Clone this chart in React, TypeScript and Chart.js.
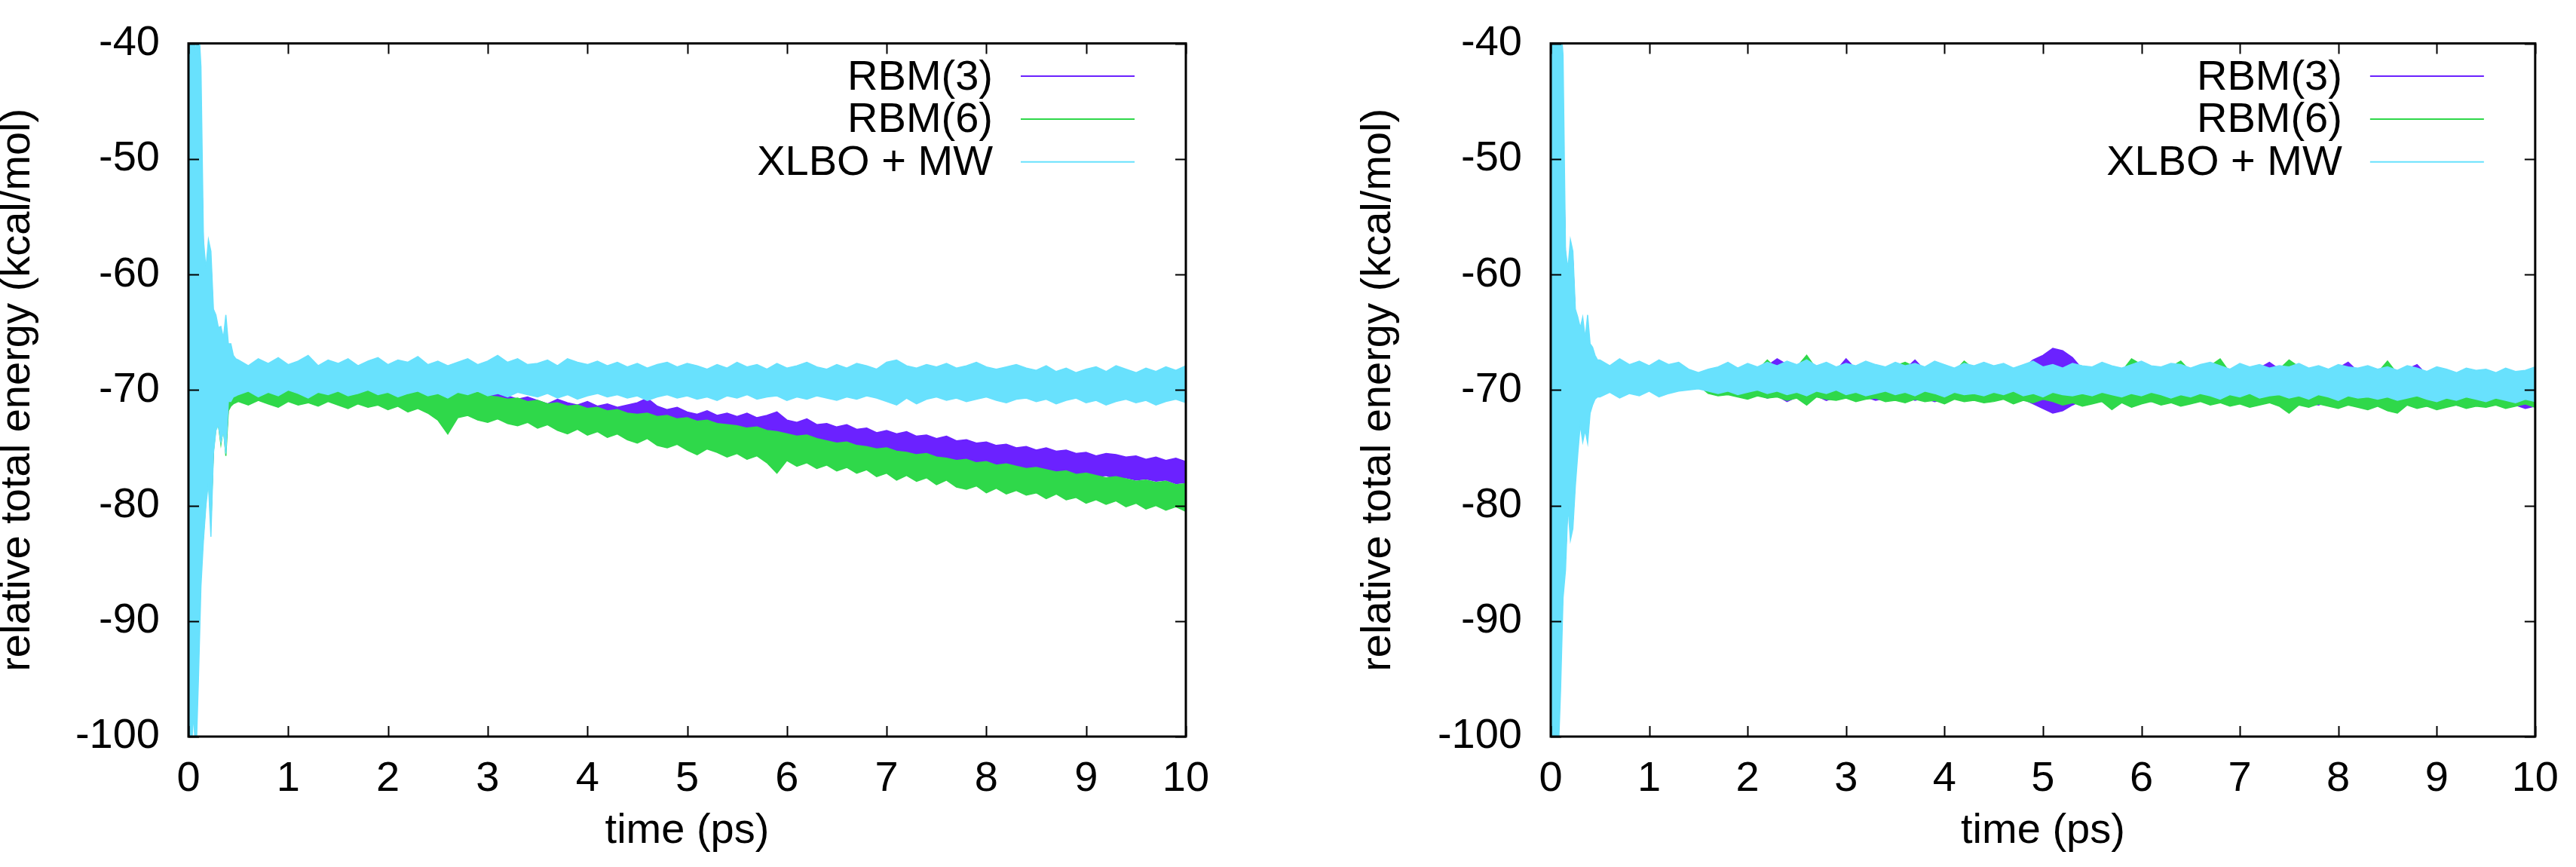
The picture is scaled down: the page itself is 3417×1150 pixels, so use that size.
import { useEffect, useRef } from "react";
import { Chart, registerables } from "chart.js";

Chart.register(...registerables);

// ---------- axes / labels ----------
const xTickValues = [0, 1, 2, 3, 4, 5, 6, 7, 8, 9, 10];
const yTickValues = [-100, -90, -80, -70, -60, -50, -40];
const seriesNames = ["RBM(3)", "RBM(6)", "XLBO + MW"];
const seriesColors = ["#6b22ff", "#2fd84a", "#68e1fd"];
const xTitle = "time (ps)";
const yTitle = "relative total energy (kcal/mol)";

// ---------- time grids (ps) ----------
const timeEarly = [0, 0.025, 0.05, 0.075, 0.1, 0.125, 0.15, 0.175, 0.2, 0.225, 0.25, 0.275, 0.3, 0.325, 0.35, 0.375, 0.4, 0.425, 0.45, 0.475];
const timeBody = Array.from({ length: 96 }, (_, i) => Math.round((0.5 + i * 0.1) * 10) / 10);

// ---------- LEFT panel: upper / lower envelope of each trace ----------
const leftXlboEarlyHi = [-38, -38, -38, -41, -38, -42, -57, -59.5, -57, -58, -63, -63.5, -64.6, -64.5, -65.5, -63.5, -66, -66, -67, -67.3];
const leftXlboEarlyLo = [-102, -102, -98, -102, -95, -87, -83, -80, -78, -82.7, -75.5, -73.5, -73, -74.5, -73.5, -75.5, -71, -71, -70.6, -70.5];
const leftXlboHi = [
  -67.4, -67.9, -67.3, -67.7, -67.2, -67.8, -67.5, -67.0, -67.9, -67.4,
  -67.7, -67.3, -67.9, -67.5, -67.2, -67.8, -67.4, -67.6, -67.1, -67.8,
  -67.5, -67.9, -67.6, -67.3, -67.8, -67.5, -67.0, -67.6, -67.3, -67.8,
  -67.7, -67.4, -67.9, -67.3, -67.6, -67.8, -67.5, -67.9, -67.6, -68.0,
  -67.7, -68.1, -67.8, -67.6, -68.0, -67.7, -67.9, -68.2, -67.8, -68.1,
  -67.6, -68.0, -67.8, -68.2, -67.7, -68.1, -67.9, -67.6, -68.0, -68.2,
  -67.8, -68.1, -67.7, -67.9, -68.2, -67.6, -67.4, -67.9, -68.1, -67.8,
  -68.0, -67.7, -68.1, -67.9, -67.6, -68.0, -68.2, -68.0, -67.8, -68.1,
  -68.3, -67.9, -68.4, -68.1, -68.5, -68.2, -68.0, -68.4, -67.9, -68.2,
  -68.5, -68.1, -68.4, -68.0, -68.3, -67.9,
];
const leftXlboLo = [
  -70.4, -70.1, -70.6, -70.2, -70.5, -70.0, -70.3, -70.7, -70.2, -70.4,
  -70.1, -70.5, -70.3, -70.0, -70.4, -70.2, -70.6, -70.3, -70.1, -70.5,
  -70.3, -70.7, -70.2, -70.4, -70.1, -70.5, -70.3, -70.6, -70.2, -70.4,
  -70.6, -70.3, -70.7, -70.4, -70.8, -70.5, -70.3, -70.6, -70.4, -70.7,
  -70.5, -70.9, -70.6, -70.4, -70.7, -70.5, -70.8, -70.6, -70.9, -70.5,
  -70.7, -70.4, -70.8, -70.6, -70.5, -70.9, -70.6, -70.8, -70.5, -70.7,
  -70.9, -70.6, -70.8, -70.5, -70.7, -71.0, -71.3, -70.7, -71.2, -70.8,
  -70.6, -70.9, -70.7, -71.0, -70.8, -70.6, -70.9, -71.1, -70.8, -70.7,
  -71.0, -70.8, -71.2, -70.9, -70.7, -71.1, -70.9, -71.3, -71.0, -70.8,
  -71.1, -70.9, -71.3, -71.0, -70.8, -71.1,
];

const leftRbm3EarlyHi = [-41, -40, -42, -43, -45, -48, -58, -60, -58, -59, -64, -64, -65, -65, -66, -64.5, -66.5, -67.5, -68.5, -69.5];
const leftRbm3EarlyLo = [-99, -98, -96, -97, -92, -85, -82, -79, -77, -81, -75, -73, -72.8, -74, -73, -75, -71.5, -71.3, -71, -70.9];
const leftRbm3Hi = [
  -69.7, -69.9, -69.6, -69.8, -69.5, -69.9, -69.6, -69.8, -69.7, -69.5,
  -69.6, -69.8, -69.5, -69.9, -69.7, -70.0, -69.8, -70.1, -69.9, -70.2,
  -70.0, -70.4, -70.1, -70.3, -70.6, -70.4, -70.2, -70.5, -70.8, -70.6,
  -70.9, -71.2, -70.8, -71.1, -71.3, -71.0, -71.4, -71.2, -71.5, -71.3,
  -71.1, -70.7, -71.4, -71.7, -71.5, -71.9, -72.1, -71.8, -72.2, -72.0,
  -72.3, -72.0, -72.4, -72.2, -71.9, -72.6, -72.8, -72.5, -73.0, -72.9,
  -73.2, -73.0, -73.4, -73.3, -73.7, -73.5, -73.8, -73.6, -74.0, -73.9,
  -74.2, -74.0, -74.4, -74.3, -74.6, -74.5, -74.8, -74.7, -75.0, -74.9,
  -75.2, -75.0, -75.3, -75.2, -75.5, -75.4, -75.7, -75.5, -75.6, -75.8,
  -75.7, -76.0, -75.8, -76.1, -75.9, -76.2,
];
const leftRbm3Lo = [
  -70.8, -71.0, -70.7, -70.9, -71.1, -70.8, -71.0, -70.9, -71.2, -70.8,
  -71.0, -71.3, -71.0, -71.2, -71.1, -71.4, -71.2, -71.5, -71.3, -71.6,
  -71.8, -72.3, -71.9, -72.0, -72.3, -72.2, -72.5, -72.4, -72.7, -72.6,
  -72.9, -72.7, -73.1, -73.0, -73.3, -73.2, -73.4, -73.3, -73.6, -73.5,
  -73.7, -73.6, -73.9, -73.8, -74.0, -73.9, -74.2, -74.1, -74.3, -74.2,
  -74.4, -74.3, -74.5, -74.4, -74.7, -74.6, -74.9, -74.8, -75.1, -75.0,
  -75.3, -75.2, -75.5, -75.4, -75.6, -75.5, -75.8, -75.7, -75.9, -75.8,
  -76.1, -76.0, -76.2, -76.1, -76.4, -76.3, -76.6, -76.5, -76.8, -76.7,
  -77.0, -76.9, -77.2, -77.1, -77.4, -77.3, -77.5, -77.4, -77.7, -77.6,
  -77.8, -77.7, -77.9, -77.8, -78.1, -78.0,
];

const leftRbm6EarlyHi = [-41, -41, -43, -44, -46, -49, -58.5, -60.5, -58.5, -59.5, -64.5, -64.5, -65.5, -65.5, -66.5, -65, -67, -68, -69, -69.6];
const leftRbm6EarlyLo = [-99, -98.5, -96, -97, -92.5, -85.5, -82.5, -79.5, -77.5, -81.5, -75.3, -73.3, -73, -74.7, -73.2, -75.7, -71.8, -71.4, -71.2, -71.1];
const leftRbm6Hi = [
  -69.6, -69.8, -69.5, -69.9, -69.6, -69.7, -69.4, -69.8, -69.6, -69.5,
  -69.4, -69.7, -69.5, -69.8, -69.6, -69.9, -69.7, -70.0, -69.8, -70.1,
  -70.0, -70.3, -70.1, -70.4, -70.2, -70.5, -70.6, -70.8, -70.7, -71.0,
  -70.9, -71.2, -71.1, -71.4, -71.3, -71.6, -71.5, -71.8, -71.7, -72.0,
  -72.1, -72.0, -72.3, -72.2, -72.5, -72.4, -72.7, -72.6, -72.9, -73.0,
  -73.1, -73.3, -73.2, -73.5, -73.6, -73.8, -74.0, -73.9, -74.2, -74.4,
  -74.6, -74.5, -74.8, -74.9, -75.1, -75.0, -75.3, -75.4, -75.6, -75.5,
  -75.8, -75.9, -76.1, -76.0, -76.3, -76.2, -76.5, -76.4, -76.6, -76.8,
  -76.7, -76.9, -77.1, -77.0, -77.3, -77.2, -77.4, -77.6, -77.5, -77.7,
  -77.9, -77.8, -78.0, -77.9, -78.2, -78.1,
];
const leftRbm6Lo = [
  -71.0, -71.3, -70.9, -71.2, -71.5, -71.0, -71.3, -71.1, -71.4, -71.0,
  -71.3, -71.6, -71.2, -71.5, -71.3, -71.7, -71.4, -71.9, -71.6, -72.0,
  -72.6, -73.8, -72.4, -72.2, -72.6, -72.8, -72.5, -72.9, -73.1, -72.8,
  -73.3, -73.0, -73.5, -73.8, -73.4, -73.9, -73.6, -74.1, -73.8, -74.3,
  -74.6, -74.2, -74.8, -75.0, -74.7, -75.2, -75.6, -75.1, -75.4, -75.8,
  -75.5, -76.0, -75.7, -76.3, -77.2, -76.1, -76.6, -76.3, -76.8, -76.5,
  -77.0, -76.7, -77.2, -76.9, -77.5, -77.2, -77.8, -77.4, -77.9, -77.6,
  -78.2, -77.8, -78.4, -78.6, -78.3, -78.9, -78.5, -79.0, -78.7, -79.1,
  -78.9, -79.4, -79.0, -79.5, -79.3, -79.8, -79.5, -79.9, -79.6, -80.1,
  -79.8, -80.3, -80.0, -80.4, -80.1, -80.5,
];

// ---------- RIGHT panel ----------
const rightXlboEarlyHi = [-38, -38, -38, -40, -38, -41, -57.9, -59.5, -57, -58, -63, -63.7, -64.6, -63.7, -65.5, -63.5, -66, -66.3, -67, -67.4];
const rightXlboEarlyLo = [-102, -102, -100, -102, -96, -88, -85.6, -80, -83, -82, -78.3, -75.5, -73, -74.5, -73.5, -74.6, -72, -71.3, -70.8, -70.6];
const rightXlboHi = [
  -67.4, -67.9, -67.3, -67.8, -67.5, -67.9, -67.4, -67.8, -67.6, -68.2,
  -68.5, -68.2, -68.0, -67.6, -68.1, -67.7, -68.0, -67.6, -67.9, -67.5,
  -67.8, -67.4, -67.9, -67.6, -68.0, -67.7, -67.9, -67.5, -67.8, -68.0,
  -67.6, -67.9, -67.7, -68.0, -67.5, -67.8, -68.1, -67.7, -67.9, -67.6,
  -67.9, -67.7, -68.1, -67.8, -67.5, -68.0, -67.8, -68.1, -67.7, -67.9,
  -68.0, -67.6, -67.9, -68.1, -67.8, -67.5, -67.9, -68.0, -67.7, -67.8,
  -68.1, -67.8, -67.6, -67.9, -68.2, -67.7, -68.0, -67.8, -68.1, -67.9,
  -68.0, -67.7, -68.1, -67.9, -68.2, -67.8, -68.0, -68.1, -67.9, -68.2,
  -68.0, -68.3, -67.9, -68.1, -68.4, -68.0, -68.2, -68.5, -68.1, -68.3,
  -68.2, -68.5, -68.1, -68.4, -68.3, -68.0,
];
const rightXlboLo = [
  -70.6, -70.2, -70.7, -70.3, -70.5, -70.1, -70.6, -70.3, -70.1, -70.0,
  -69.9, -70.1, -70.3, -70.1, -70.4, -70.2, -70.0, -70.3, -70.1, -70.4,
  -70.2, -70.5, -70.1, -70.3, -70.0, -70.4, -70.2, -70.5, -70.3, -70.1,
  -70.4, -70.2, -70.5, -70.1, -70.3, -70.6, -70.2, -70.4, -70.3, -70.5,
  -70.2, -70.4, -70.1, -70.5, -70.3, -70.6, -70.2, -70.4, -70.5, -70.3,
  -70.5, -70.2, -70.4, -70.6, -70.3, -70.5, -70.2, -70.4, -70.7, -70.4,
  -70.6, -70.3, -70.5, -70.8, -70.4, -70.6, -70.3, -70.7, -70.5, -70.4,
  -70.7, -70.5, -70.8, -70.4, -70.6, -70.9, -70.5, -70.7, -70.6, -70.8,
  -70.6, -70.9, -70.7, -70.5, -70.8, -71.0, -70.7, -70.9, -70.6, -70.8,
  -71.0, -70.7, -70.9, -71.1, -70.8, -71.0,
];

const rightRbm3EarlyHi = [-41, -40, -42, -43, -45, -48, -58.6, -60.2, -57.8, -58.8, -63.8, -64.4, -65.3, -64.5, -66.2, -64.3, -66.7, -67, -67.6, -67.9];
const rightRbm3EarlyLo = [-99, -98, -97, -98, -93, -86, -84.5, -79.3, -82, -81.2, -77.5, -74.8, -72.4, -73.8, -72.9, -74, -71.4, -70.8, -70.4, -70.3];
const rightRbm3Hi = [
  -67.7, -68.2, -67.6, -68.1, -67.8, -68.2, -67.7, -68.1, -67.9, -68.5,
  -68.8, -68.5, -68.3, -67.9, -68.4, -68.0, -68.3, -67.9, -67.3, -67.8,
  -68.1, -67.7, -68.2, -67.9, -68.3, -67.3, -68.2, -67.8, -68.1, -68.3,
  -67.9, -68.2, -67.4, -68.3, -67.8, -68.1, -68.4, -68.0, -68.2, -67.9,
  -68.2, -68.0, -68.4, -68.1, -67.4, -67.0, -66.4, -66.6, -67.2, -68.2,
  -68.3, -67.9, -68.2, -68.4, -68.1, -67.8, -68.2, -68.3, -68.0, -68.1,
  -68.4, -68.1, -67.9, -68.2, -68.5, -68.0, -68.3, -68.1, -67.6, -68.2,
  -68.3, -68.0, -68.4, -68.2, -68.5, -68.1, -67.6, -68.4, -68.2, -68.5,
  -68.3, -68.6, -68.2, -67.8, -68.7, -68.3, -68.5, -68.8, -68.4, -68.6,
  -68.5, -68.8, -68.4, -68.7, -68.6, -68.3,
];
const rightRbm3Lo = [
  -70.4, -70.0, -70.5, -70.1, -70.3, -69.9, -70.4, -70.1, -69.9, -69.8,
  -69.7, -70.2, -70.4, -70.3, -70.5, -70.6, -70.4, -70.7, -70.5, -71.0,
  -70.6, -70.8, -70.5, -70.9, -70.6, -70.7, -70.8, -70.6, -70.9, -70.7,
  -70.8, -70.6, -70.9, -70.7, -71.0, -70.8, -70.6, -70.9, -70.7, -70.8,
  -70.9, -70.7, -71.0, -70.8, -71.2, -71.6, -72.0, -71.8, -71.3, -70.9,
  -70.8, -71.0, -70.7, -70.9, -70.6, -70.8, -71.0, -70.7, -70.9, -70.8,
  -71.0, -70.8, -71.1, -70.9, -70.7, -71.0, -70.8, -71.1, -70.9, -71.0,
  -71.2, -70.9, -71.1, -71.3, -71.0, -71.2, -70.9, -71.1, -71.3, -71.0,
  -71.2, -71.0, -71.3, -71.1, -71.4, -71.2, -71.0, -71.3, -71.5, -71.2,
  -71.4, -71.2, -71.5, -71.3, -71.6, -71.4,
];

const rightRbm6EarlyHi = [-41, -41, -43, -44, -46, -49, -58.8, -60.4, -58, -59, -64, -64.6, -65.5, -64.7, -66.4, -64.5, -66.9, -67.2, -67.8, -68];
const rightRbm6EarlyLo = [-99, -98.5, -97, -98, -93.5, -86.5, -84.3, -79.1, -81.8, -81, -77.3, -74.6, -72.3, -73.6, -72.7, -73.8, -71.3, -70.7, -70.3, -70.2];
const rightRbm6Hi = [
  -67.8, -68.3, -67.7, -68.2, -67.9, -68.3, -67.8, -68.2, -68.0, -68.6,
  -68.9, -68.6, -68.4, -68.0, -68.5, -67.9, -68.3, -67.4, -68.2, -67.8,
  -68.0, -67.0, -68.2, -67.9, -68.3, -68.0, -68.2, -67.8, -68.1, -68.3,
  -67.9, -67.6, -68.0, -68.3, -67.8, -68.1, -68.4, -67.5, -68.2, -67.9,
  -68.2, -67.9, -68.4, -68.1, -67.8, -68.3, -68.1, -68.4, -67.9, -68.2,
  -68.3, -67.9, -68.2, -68.4, -67.3, -67.8, -68.2, -68.3, -68.0, -67.5,
  -68.4, -68.1, -67.9, -67.3, -68.5, -68.0, -68.3, -68.1, -68.4, -68.2,
  -67.4, -68.0, -68.4, -68.2, -68.5, -68.1, -68.3, -68.4, -68.2, -68.5,
  -67.5, -68.6, -68.2, -68.4, -68.7, -68.3, -68.5, -68.8, -68.4, -68.6,
  -68.5, -68.8, -68.4, -68.7, -68.6, -68.3,
];
const rightRbm6Lo = [
  -70.3, -69.9, -70.4, -70.0, -70.2, -69.8, -70.3, -70.0, -69.8, -69.7,
  -69.6, -70.3, -70.5, -70.4, -70.6, -70.8, -70.5, -70.7, -70.6, -70.9,
  -70.7, -71.3, -70.6, -70.8, -70.9, -70.7, -71.0, -70.8, -70.7, -71.0,
  -70.9, -71.1, -70.8, -71.0, -70.9, -71.2, -70.8, -71.0, -70.9, -71.1,
  -71.0, -70.8, -71.2, -70.9, -71.1, -70.8, -71.0, -71.3, -71.1, -71.4,
  -71.2, -71.0, -71.7, -71.1, -71.5, -71.2, -71.0, -71.3, -71.1, -71.4,
  -71.2, -71.0, -71.3, -71.1, -71.4, -71.2, -71.5, -71.3, -71.1, -71.4,
  -72.0, -71.3, -71.5, -71.2, -71.4, -71.6, -71.3, -71.5, -71.7, -71.4,
  -71.8, -72.0, -71.3, -71.6, -71.4, -71.7, -71.5, -71.3, -71.6, -71.4,
  -71.5, -71.3, -71.6, -71.4, -71.2, -71.5,
];

// ---------- helpers ----------
const FONT = "'Liberation Sans', Arial, Helvetica, sans-serif";

function toPoints(early: number[], body: number[]) {
  const pts: { x: number; y: number }[] = [];
  timeEarly.forEach((t, i) => pts.push({ x: t, y: early[i] }));
  timeBody.forEach((t, i) => pts.push({ x: t, y: body[i] }));
  return pts;
}

type Band = { eHi: number[]; eLo: number[]; hi: number[]; lo: number[] };

function buildDatasets(bands: Band[]) {
  const ds: any[] = [];
  bands.forEach((b, s) => {
    const color = seriesColors[s];
    const order = 3 - s; // XLBO drawn on top
    ds.push({
      data: toPoints(b.eLo, b.lo),
      borderColor: color,
      backgroundColor: color,
      borderWidth: 1.5,
      pointRadius: 0,
      tension: 0,
      fill: false,
      order,
    });
    ds.push({
      data: toPoints(b.eHi, b.hi),
      borderColor: color,
      backgroundColor: color,
      borderWidth: 1.5,
      pointRadius: 0,
      tension: 0,
      fill: "-1",
      order,
    });
  });
  return ds;
}

const framePlugin = {
  id: "gnuFrame",
  afterDatasetsDraw(chart: any) {
    const { ctx, chartArea } = chart;
    const { left, right, top, bottom } = chartArea;
    const xs = chart.scales.x;
    const ys = chart.scales.y;
    ctx.save();
    ctx.strokeStyle = "#000";
    ctx.lineWidth = 2;
    ctx.beginPath();
    xTickValues.forEach((v) => {
      const px = Math.round(xs.getPixelForValue(v)) + 0.5;
      ctx.moveTo(px, bottom);
      ctx.lineTo(px, bottom - 14);
      ctx.moveTo(px, top);
      ctx.lineTo(px, top + 14);
    });
    yTickValues.forEach((v) => {
      const py = Math.round(ys.getPixelForValue(v)) + 0.5;
      ctx.moveTo(left, py);
      ctx.lineTo(left + 14, py);
      ctx.moveTo(right, py);
      ctx.lineTo(right - 14, py);
    });
    ctx.stroke();
    ctx.lineWidth = 3;
    ctx.strokeRect(left, top, right - left, bottom - top);

    // gnuplot-style key
    ctx.font = `56px ${FONT}`;
    ctx.textAlign = "right";
    ctx.textBaseline = "middle";
    ctx.fillStyle = "#000";
    seriesNames.forEach((name, i) => {
      const yRow = top + 43.5 + i * 56.8;
      ctx.fillText(name, right - 256, yRow + 2);
      ctx.strokeStyle = seriesColors[i];
      ctx.lineWidth = 2;
      ctx.beginPath();
      ctx.moveTo(right - 219, yRow);
      ctx.lineTo(right - 68, yRow);
      ctx.stroke();
    });
    ctx.restore();
  },
};

function makeConfig(bands: Band[], yAxisWidth: number, rightPad: number, yTitlePad: number) {
  return {
    type: "line" as const,
    data: { datasets: buildDatasets(bands) },
    plugins: [framePlugin],
    options: {
      responsive: false,
      animation: false as const,
      devicePixelRatio: 1,
      parsing: false as const,
      normalized: true,
      events: [],
      layout: { autoPadding: false, padding: { left: 0, right: rightPad, top: 22, bottom: 0 } },
      plugins: { legend: { display: false }, tooltip: { enabled: false }, title: { display: false } },
      scales: {
        x: {
          type: "linear" as const,
          min: 0,
          max: 10,
          grid: { display: false, drawTicks: false },
          border: { display: false },
          afterFit: (scale: any) => {
            scale.height = 173;
          },
          afterBuildTicks: (scale: any) => {
            scale.ticks = xTickValues.map((v) => ({ value: v }));
          },
          ticks: {
            autoSkip: false,
            maxRotation: 0,
            minRotation: 0,
            padding: 23,
            color: "#000",
            font: { family: FONT, size: 56, lineHeight: 1.2 },
            callback: (v: any) => String(v),
          },
          title: {
            display: true,
            text: xTitle,
            color: "#000",
            font: { family: FONT, size: 56, lineHeight: 1.2 },
            padding: { top: 0, bottom: 14 },
          },
        },
        y: {
          type: "linear" as const,
          min: -100,
          max: -40,
          grid: { display: false, drawTicks: false },
          border: { display: false },
          afterFit: (scale: any) => {
            scale.width = yAxisWidth;
          },
          afterBuildTicks: (scale: any) => {
            scale.ticks = yTickValues.map((v) => ({ value: v }));
          },
          ticks: {
            autoSkip: false,
            padding: 38,
            color: "#000",
            font: { family: FONT, size: 56, lineHeight: 0.7 },
            callback: (v: any) => String(v),
          },
          title: {
            display: true,
            text: yTitle,
            color: "#000",
            font: { family: FONT, size: 56, lineHeight: 0.8 },
            padding: { top: yTitlePad, bottom: 0 },
          },
        },
      },
    },
  };
}

const leftBands: Band[] = [
  { eHi: leftRbm3EarlyHi, eLo: leftRbm3EarlyLo, hi: leftRbm3Hi, lo: leftRbm3Lo },
  { eHi: leftRbm6EarlyHi, eLo: leftRbm6EarlyLo, hi: leftRbm6Hi, lo: leftRbm6Lo },
  { eHi: leftXlboEarlyHi, eLo: leftXlboEarlyLo, hi: leftXlboHi, lo: leftXlboLo },
];
const rightBands: Band[] = [
  { eHi: rightRbm3EarlyHi, eLo: rightRbm3EarlyLo, hi: rightRbm3Hi, lo: rightRbm3Lo },
  { eHi: rightRbm6EarlyHi, eLo: rightRbm6EarlyLo, hi: rightRbm6Hi, lo: rightRbm6Lo },
  { eHi: rightXlboEarlyHi, eLo: rightXlboEarlyLo, hi: rightXlboHi, lo: rightXlboLo },
];

export default function App() {
  const leftRef = useRef<HTMLCanvasElement>(null);
  const rightRef = useRef<HTMLCanvasElement>(null);

  useEffect(() => {
    const c1 = new Chart(leftRef.current as HTMLCanvasElement, makeConfig(leftBands, 250, 135, 1.6) as any);
    const c2 = new Chart(rightRef.current as HTMLCanvasElement, makeConfig(rightBands, 349, 39, 98) as any);
    return () => {
      c1.destroy();
      c2.destroy();
    };
  }, []);

  return (
    <div style={{ position: "absolute", left: 0, top: 0, width: 3417, height: 1150, background: "#fff" }}>
      <canvas ref={leftRef} width={1708} height={1150} style={{ position: "absolute", left: 0, top: 0 }} />
      <canvas ref={rightRef} width={1709} height={1150} style={{ position: "absolute", left: 1708, top: 0 }} />
    </div>
  );
}
